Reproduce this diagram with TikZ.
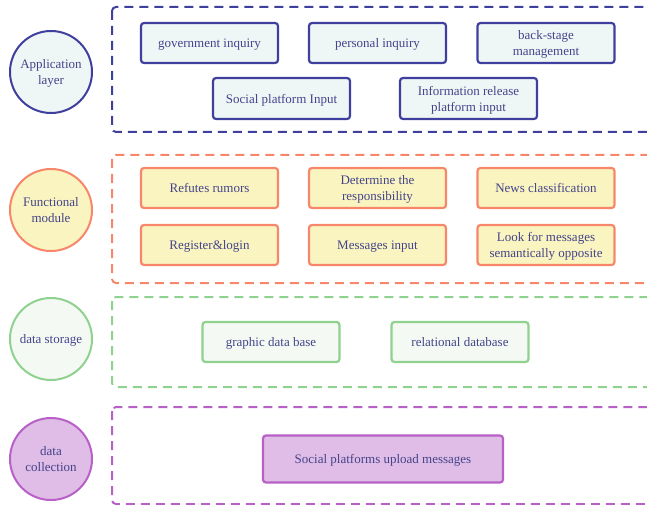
\documentclass[tikz,border=0pt]{standalone}
\usepackage{fontspec}
\setmainfont{Liberation Serif}
\definecolor{txt}{HTML}{44448A}
\definecolor{appB}{HTML}{3F3F9E}
\definecolor{appF}{HTML}{EEF7F5}
\definecolor{funB}{HTML}{F7866A}
\definecolor{funF}{HTML}{FAF4C0}
\definecolor{stoB}{HTML}{8FD18F}
\definecolor{stoF}{HTML}{F4FAF3}
\definecolor{colB}{HTML}{B860C8}
\definecolor{colF}{HTML}{E0BDE6}
\begin{document}
\begin{tikzpicture}[x=1pt,y=-1pt,
  every node/.style={text=txt, font=\fontsize{13}{16}\selectfont, align=center, inner sep=0pt, text depth=-3pt},
  layer/.style={draw, line width=2pt, dash pattern=on 9pt off 6pt, rounded corners=4pt},
  card/.style={draw, line width=2.2pt, rounded corners=3pt, minimum height=40pt, minimum width=137pt},
  badge/.style={draw, circle, line width=2pt, minimum size=82pt},
  app/.style={draw=appB, fill=appF},
  fun/.style={draw=funB, fill=funF},
  sto/.style={draw=stoB, fill=stoF},
  col/.style={draw=colB, fill=colF}]
\clip (0,0) rectangle (647,505);
\useasboundingbox (0,0) rectangle (647,505);
% dashed layer frames
\draw[layer, appB] (112,7) rectangle (670,132);
\draw[layer, funB] (112,155) rectangle (670,283);
\draw[layer, stoB] (112,297) rectangle (670,387);
\draw[layer, colB] (112,407) rectangle (670,504);
% badges
\node[badge, app] (appc) at (51,72) {Application\\layer};
\node[badge, fun] (func) at (51,210) {Functional\\module};
\node[badge, sto] (stoc) at (51,339) {data storage};
\node[badge, col] (colc) at (51,459) {data\\collection};
% application layer
\node[card, app] (gov) at (209.5,43) {government inquiry};
\node[card, app] (per) at (377.5,43) {personal inquiry};
\node[card, app] (back) at (546,43) {back-stage\\management};
\node[card, app, minimum height=41pt] (soc) at (281.5,98.5) {Social platform Input};
\node[card, app, minimum height=41pt] (info) at (468.5,98.5) {Information release\\platform input};
% functional module
\node[card, fun] (ref) at (209.5,188) {Refutes rumors};
\node[card, fun] (det) at (377.5,188) {Determine the\\responsibility};
\node[card, fun] (news) at (546,188) {News classification};
\node[card, fun] (reg) at (209.5,245) {Register\&login};
\node[card, fun] (msg) at (377.5,245) {Messages input};
\node[card, fun] (look) at (546,245) {Look for messages\\semantically opposite};
% data storage
\node[card, sto] (gdb) at (271,342) {graphic data base};
\node[card, sto] (rdb) at (460,342) {relational database};
% data collection
\node[card, col, minimum width=240pt, minimum height=47pt] (up) at (383,459) {Social platforms upload messages};
\end{tikzpicture}
\end{document}
